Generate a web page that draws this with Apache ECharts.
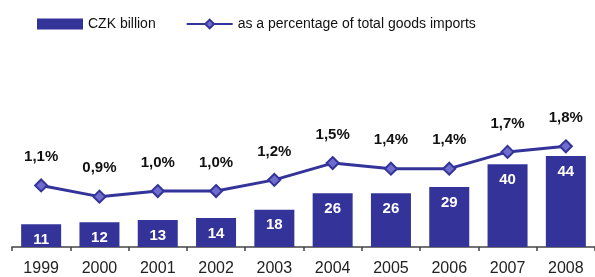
<!DOCTYPE html>
<html>
<head>
<meta charset="utf-8">
<script src="https://cdn.jsdelivr.net/npm/echarts@6/dist/echarts.min.js"></script>
<style>
  html, body { margin: 0; padding: 0; background: #fff; }
  #chart { width: 595px; height: 277px; }
</style>
</head>
<body>
<div id="chart"></div>
<script>
(function() {
  'use strict';

  var years = ['1999', '2000', '2001', '2002', '2003', '2004', '2005', '2006', '2007', '2008'];
  var czkBillion = [11, 12, 13, 14, 18, 26, 26, 29, 40, 44];
  var pctOfImports = [1.1, 0.9, 1.0, 1.0, 1.2, 1.5, 1.4, 1.4, 1.7, 1.8];

  var font = '"Liberation Sans", Arial, sans-serif';
  var navy = '#333399';

  var myChart = echarts.init(document.getElementById('chart'));

  var option = {
    animation: false,
    textStyle: { fontFamily: font },
    legend: {
      left: 32,
      top: 12,
      itemWidth: 46,
      itemHeight: 11,
      itemGap: 30,
      textStyle: { fontSize: 14, color: '#111', fontFamily: font },
      data: [
        { name: 'CZK billion', icon: 'rect' },
        { name: 'as a percentage of total goods imports' }
      ]
    },
    grid: { left: 12, right: 0, top: 40, bottom: 28 },
    xAxis: {
      type: 'category',
      data: years,
      axisLine: { lineStyle: { color: '#444', width: 1.5 } },
      axisTick: { show: true, length: 4, lineStyle: { color: '#444', width: 1.5 } },
      axisLabel: { color: '#222', fontSize: 16, margin: 14, fontFamily: font }
    },
    yAxis: [
      { type: 'value', min: 0, max: 100, show: false, splitLine: { show: false } },
      { type: 'value', min: 0, max: 3.7, show: false, splitLine: { show: false } }
    ],
    series: [
      {
        name: 'CZK billion',
        type: 'bar',
        data: czkBillion,
        barWidth: 40,
        itemStyle: { color: navy },
        label: {
          show: true,
          position: 'insideTop',
          distance: 8,
          color: '#fff',
          fontWeight: 'bold',
          fontSize: 15,
          fontFamily: font
        }
      },
      {
        name: 'as a percentage of total goods imports',
        type: 'line',
        yAxisIndex: 1,
        data: pctOfImports,
        symbol: 'diamond',
        symbolSize: 12,
        lineStyle: { color: navy, width: 3 },
        itemStyle: { color: '#6e6ccc', borderColor: navy, borderWidth: 2 },
        label: {
          show: true,
          position: 'top',
          distance: 14,
          color: '#111',
          fontWeight: 'bold',
          fontSize: 15,
          fontFamily: font,
          formatter: function(p) {
            return p.value.toFixed(1).replace('.', ',') + '%';
          }
        }
      }
    ]
  };

  myChart.setOption(option);
}());
</script>
</body>
</html>
